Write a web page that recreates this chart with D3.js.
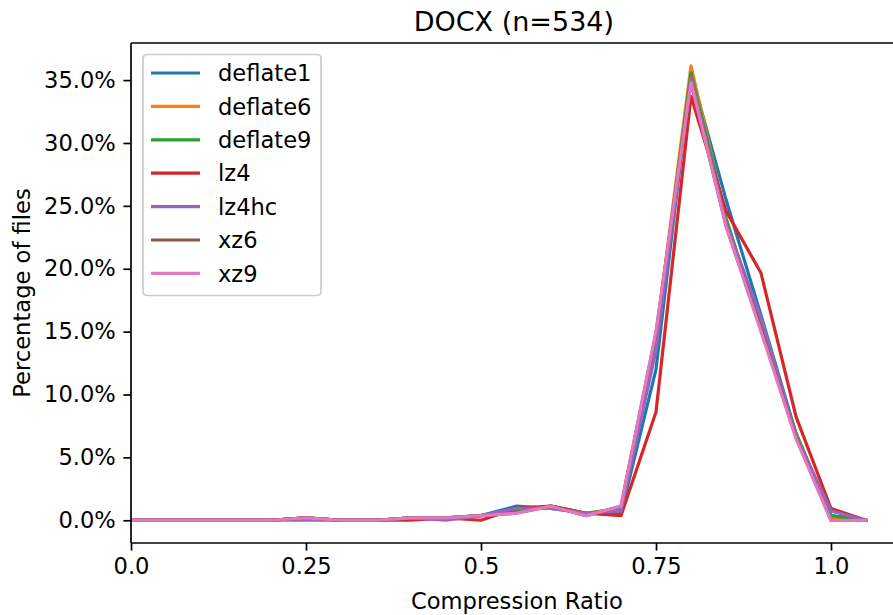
<!DOCTYPE html>
<html>
<head>
<meta charset="utf-8">
<script src="https://cdn.jsdelivr.net/npm/d3@7"></script>
<style>
  html, body { margin: 0; padding: 0; background: #fff; }
  svg text { font-family: "DejaVu Sans", sans-serif; fill: #000; }
</style>
</head>
<body>
<svg id="chart" width="893" height="615"></svg>
<script>
// Compression ratio bins (bin start)
const ratios = [0, 0.05, 0.10, 0.15, 0.20, 0.25, 0.30, 0.35, 0.40, 0.45, 0.50,
                0.55, 0.60, 0.65, 0.70, 0.75, 0.80, 0.85, 0.90, 0.95, 1.00, 1.05];

// Percentage of files per bin, one array per codec
const deflate1 = [0, 0, 0, 0, 0, 0.19, 0, 0, 0.19, 0.19, 0.37, 1.12, 0.94, 0.56, 0.56, 12.0, 35.58, 25.5, 16.3, 6.9, 0.37, 0];
const deflate6 = [0, 0, 0, 0, 0, 0.19, 0, 0, 0.19, 0.19, 0.37, 0.75, 1.12, 0.56, 0.94, 14.6, 36.14, 24.0, 15.2, 6.9, 0.19, 0];
const deflate9 = [0, 0, 0, 0, 0, 0.19, 0, 0, 0.19, 0.19, 0.37, 0.75, 1.12, 0.56, 0.94, 14.4, 35.58, 24.0, 15.4, 6.9, 0.37, 0];
const lz4      = [0, 0, 0, 0, 0, 0.19, 0, 0, 0, 0.19, 0, 0.94, 1.12, 0.56, 0.37, 8.61, 33.71, 24.6, 19.66, 8.24, 0.94, 0];
const lz4hc    = [0, 0, 0, 0, 0, 0, 0, 0, 0.19, 0, 0.37, 0.94, 0.94, 0.56, 0.75, 13.5, 35.2, 23.6, 16.1, 6.7, 0.75, 0];
const xz6      = [0, 0, 0, 0, 0, 0.19, 0, 0, 0.19, 0.19, 0.37, 0.56, 1.12, 0.37, 1.12, 14.9, 34.83, 23.4, 15.2, 6.6, 0, 0];
const xz9      = [0, 0, 0, 0, 0, 0.19, 0, 0, 0.19, 0.19, 0.37, 0.56, 1.12, 0.37, 1.12, 15.0, 34.83, 23.4, 15.0, 6.5, 0, 0];

const seriesNames = ["deflate1", "deflate6", "deflate9", "lz4", "lz4hc", "xz6", "xz9"];
const seriesValues = [deflate1, deflate6, deflate9, lz4, lz4hc, xz6, xz9];
const colors = ["#1f77b4", "#ff7f0e", "#2ca02c", "#d62728", "#9467bd", "#8c564b", "#e377c2"];

const xTicks = [0, 0.25, 0.5, 0.75, 1.0];
const xTickLabels = ["0.0", "0.25", "0.5", "0.75", "1.0"];
const yTicks = [0, 5, 10, 15, 20, 25, 30, 35];

const svg = d3.select("#chart");
const plotLeft = 131, plotTop = 43, plotBottom = 543;
const xMax = 1.1025;
const x = d3.scaleLinear().domain([0, xMax]).range([plotLeft, plotLeft + 700 * xMax]);
const yMin = -1.807, yMax = 37.95;
const y = d3.scaleLinear().domain([yMin, yMax]).range([plotBottom, plotTop]);

const fontSize = 22.6;
const tickLen = 7.6;

// Series lines, clipped to the axes area
svg.append("clipPath").attr("id", "plotclip")
  .append("rect").attr("x", plotLeft).attr("y", plotTop)
  .attr("width", x(xMax) - plotLeft).attr("height", plotBottom - plotTop);

const line = d3.line().x((d, i) => x(ratios[i])).y(d => y(d));
const g = svg.append("g").attr("clip-path", "url(#plotclip)");
seriesValues.forEach((vals, k) => {
  g.append("path")
    .datum(vals)
    .attr("d", line)
    .attr("fill", "none")
    .attr("stroke", colors[k])
    .attr("stroke-width", 3.2)
    .attr("stroke-linejoin", "round")
    .attr("stroke-linecap", "square");
});

// Axes
const xAxis = d3.axisBottom(x).tickValues(xTicks)
  .tickFormat((d, i) => xTickLabels[i]).tickSizeOuter(0).tickSize(tickLen).tickPadding(tickLen);
const yAxis = d3.axisLeft(y).tickValues(yTicks)
  .tickFormat(d => d.toFixed(1) + "%").tickSizeOuter(0).tickSize(tickLen).tickPadding(tickLen);

const gx = svg.append("g").attr("transform", `translate(0,${plotBottom})`).call(xAxis);
const gy = svg.append("g").attr("transform", `translate(${plotLeft},0)`).call(yAxis);
[gx, gy].forEach(a => {
  a.select(".domain").remove();
  a.selectAll(".tick line").attr("stroke", "#000").attr("stroke-width", 1.7);
  a.selectAll(".tick text").attr("font-size", fontSize).attr("font-family", "DejaVu Sans").attr("fill", "#000");
});

// Spines
const spine = svg.append("g").attr("stroke", "#000").attr("stroke-width", 1.7).attr("fill", "none");
spine.append("line").attr("x1", plotLeft).attr("x2", plotLeft).attr("y1", plotTop).attr("y2", plotBottom);
spine.append("line").attr("x1", plotLeft).attr("x2", x(xMax)).attr("y1", plotBottom).attr("y2", plotBottom);
spine.append("line").attr("x1", plotLeft).attr("x2", x(xMax)).attr("y1", plotTop).attr("y2", plotTop);
spine.append("line").attr("x1", x(xMax)).attr("x2", x(xMax)).attr("y1", plotTop).attr("y2", plotBottom);

// Title and axis labels
const midX = (plotLeft + x(xMax)) / 2;
svg.append("text").attr("x", midX - 3).attr("y", 31).attr("text-anchor", "middle")
  .attr("font-size", 27).text("DOCX (n=534)");
svg.append("text").attr("x", midX).attr("y", 609).attr("text-anchor", "middle")
  .attr("font-size", fontSize).text("Compression Ratio");
svg.append("text").attr("transform", `translate(30,${(plotTop + plotBottom) / 2}) rotate(-90)`)
  .attr("text-anchor", "middle").attr("font-size", fontSize).text("Percentage of files");

// Legend
const lg = svg.append("g").attr("transform", "translate(143,54.5)");
lg.append("rect").attr("width", 178).attr("height", 241).attr("rx", 4)
  .attr("fill", "#fff").attr("fill-opacity", 0.8)
  .attr("stroke", "#cccccc").attr("stroke-width", 1.7);
seriesNames.forEach((name, k) => {
  const cy = 18.5 + k * 33.4;
  lg.append("line").attr("x1", 8).attr("x2", 57).attr("y1", cy).attr("y2", cy)
    .attr("stroke", colors[k]).attr("stroke-width", 3.2);
  lg.append("text").attr("x", 75).attr("y", cy).attr("dy", "0.36em")
    .attr("font-size", fontSize).text(name);
});
</script>
</body>
</html>
